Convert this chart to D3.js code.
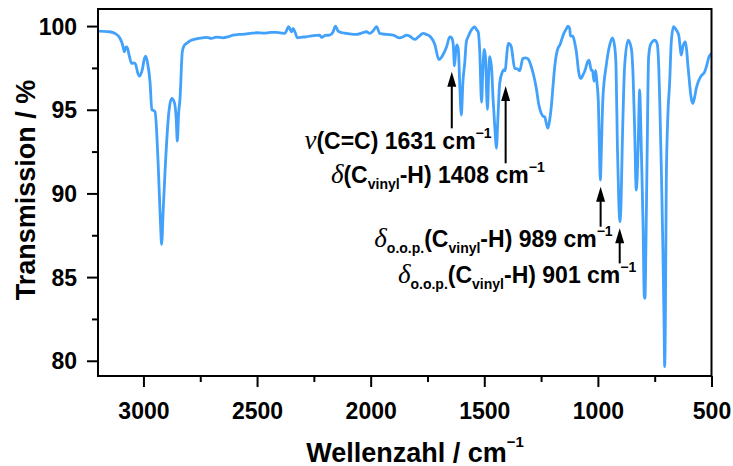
<!DOCTYPE html>
<html>
<head>
<meta charset="utf-8">
<script src="https://cdn.jsdelivr.net/npm/d3@7"></script>
<style>
  body { margin: 0; background: #fff; }
  svg { display: block; font-family: "Liberation Sans", Arial, sans-serif; font-weight: bold; }
  .greek { font-family: "Liberation Serif", "Times New Roman", serif; font-style: italic; font-weight: normal; }
</style>
</head>
<body>
<div id="chart"></div>
<script>
// IR spectrum (wavenumber in cm-1, transmission in %)
const wavenumber = [
  3200, 3150, 3125, 3103, 3092, 3084, 3076, 3071, 3062, 3052, 3040, 3034, 3025, 3018, 3005, 2995, 2990, 2982, 2971, 2963,
  2955, 2949, 2935, 2925, 2920, 2913, 2905, 2888, 2876, 2864, 2856, 2851, 2845, 2839, 2829, 2820, 2810, 2790, 2773, 2750,
  2722, 2700, 2680, 2650, 2627, 2605, 2580, 2553, 2530, 2502, 2470, 2440, 2414, 2390, 2378, 2368, 2361, 2353, 2348, 2341,
  2332, 2322, 2300, 2282, 2260, 2240, 2224, 2216, 2200, 2180, 2165, 2155, 2143, 2125, 2106, 2085, 2062, 2040, 2018, 2004,
  1990, 1974, 1960, 1930, 1901, 1872, 1857, 1842, 1828, 1806, 1790, 1769, 1755, 1740, 1728, 1718, 1700, 1690, 1681, 1665,
  1652, 1644, 1637, 1631, 1625, 1620, 1614, 1608, 1601, 1594, 1586, 1579, 1571, 1557, 1542, 1532, 1527, 1520, 1512, 1506,
  1500, 1495, 1486, 1480, 1476, 1468, 1461, 1452, 1447, 1440, 1432, 1420, 1413, 1408, 1403, 1395, 1390, 1381, 1366, 1355,
  1344, 1330, 1318, 1307, 1293, 1280, 1271, 1260, 1249, 1240, 1234, 1227, 1220, 1212, 1205, 1197, 1190, 1175, 1168, 1150,
  1140, 1132, 1124, 1121, 1110, 1102, 1095, 1085, 1078, 1073, 1066, 1058, 1044, 1039, 1029, 1024, 1017, 1010, 1004, 998,
  993, 989, 985, 978, 963, 948, 936, 926, 920, 914, 908, 903, 898, 893, 882, 867, 853, 845, 838, 831,
  827, 823, 816, 812, 809, 801, 796, 793, 789, 783, 777, 769, 758, 750, 744, 738, 732, 728, 720, 714,
  709, 706, 703, 699, 692, 684, 677, 667, 655, 648, 643, 637, 633, 626, 615, 609, 604, 598, 593, 588,
  582, 575, 567, 548, 530, 520, 511, 500
];
const transmission = [
  99.70, 99.66, 99.56, 99.26, 98.90, 98.46, 98.75, 98.70, 98.20, 97.77, 97.80, 97.70, 97.20, 97.01, 97.40, 98.10, 98.21, 97.80, 96.67, 95.00,
  94.95, 94.88, 91.70, 88.20, 86.96, 89.00, 91.30, 94.88, 95.68, 95.44, 94.50, 93.13, 94.80, 95.68, 98.46, 98.85, 98.97, 99.15, 99.22, 99.28,
  99.32, 99.26, 99.34, 99.30, 99.36, 99.46, 99.50, 99.52, 99.56, 99.60, 99.58, 99.62, 99.62, 99.58, 99.56, 99.80, 99.96, 99.78, 99.66, 99.86,
  99.60, 99.30, 99.34, 99.36, 99.42, 99.45, 99.46, 99.32, 99.44, 99.46, 99.66, 100.0, 99.70, 99.60, 99.56, 99.52, 99.50, 99.58, 99.66, 99.56,
  99.70, 99.96, 99.56, 99.50, 99.46, 99.30, 99.36, 99.46, 99.40, 99.20, 99.35, 99.56, 99.50, 99.40, 99.20, 98.92, 98.00, 98.10, 98.30, 98.80,
  99.36, 99.30, 98.96, 97.62, 98.60, 98.87, 98.57, 96.50, 94.68, 96.67, 97.80, 99.06, 99.36, 99.76, 99.95, 99.75, 99.66, 98.50, 95.45, 97.50,
  98.60, 98.20, 95.02, 97.40, 98.17, 97.50, 95.58, 93.60, 92.69, 94.50, 96.60, 97.27, 97.40, 97.33, 97.97, 98.96, 98.95, 98.75, 97.47, 97.45,
  97.33, 98.07, 98.10, 98.03, 97.57, 96.90, 96.28, 95.30, 94.78, 94.60, 94.58, 94.20, 93.89, 94.40, 95.18, 96.50, 97.57, 98.70, 98.85, 99.56,
  99.80, 100.0, 99.86, 99.40, 99.40, 99.00, 98.50, 97.30, 96.90, 96.88, 97.07, 97.30, 97.90, 97.97, 97.35, 97.37, 96.70, 97.35, 96.60, 95.50,
  92.50, 90.80, 92.50, 95.68, 97.67, 98.87, 99.30, 98.77, 97.50, 92.70, 89.50, 88.31, 89.50, 92.70, 97.67, 99.16, 98.67, 97.00, 93.69, 90.20,
  91.00, 92.70, 96.18, 94.50, 92.70, 88.00, 83.90, 83.73, 86.50, 92.70, 98.07, 98.87, 99.10, 99.16, 99.10, 98.87, 97.50, 95.68, 91.00, 86.72,
  82.50, 79.65, 82.50, 90.70, 94.68, 96.67, 99.06, 99.96, 99.76, 99.60, 99.36, 98.60, 98.27, 98.77, 99.06, 98.50, 97.67, 96.80, 96.08, 95.60,
  95.38, 95.70, 96.28, 96.97, 97.27, 97.70, 98.17, 98.35
];

const xMajorTicks = [3000, 2500, 2000, 1500, 1000, 500];
const xMinorTicks = [2750, 2250, 1750, 1250, 750];
const yMajorTicks = [80, 85, 90, 95, 100];
const yMinorTicks = [82.5, 87.5, 92.5, 97.5];

// arrows: band position, head and tail in transmission units
const arrowWn = [1643, 1406, 988, 904];
const arrowHead = [97.27, 96.42, 90.40, 87.92];
const arrowTail = [93.89, 91.80, 88.01, 85.82];

// labels: greek symbol, its subscript, band, anchor (end wn, baseline T)
const labelGreek = ['ν', 'δ', 'δ', 'δ'];
const labelGreekSub = ['', '', 'o.o.p.', 'o.o.p.'];
const labelBand = ['1631', '1408', '989', '901'];
const labelEndWn = [1468, 1234, 935, 831];
const labelBaseT = [92.63, 90.64, 86.82, 84.63];

const W = 733;
const H = 466;
const margin = { top: 9, right: 21.5, bottom: 90, left: 98 };
const width = W - margin.left - margin.right;
const height = H - margin.top - margin.bottom;
const lineColor = '#42a1fb';

const svg = d3.select('#chart').append('svg')
  .attr('width', W)
  .attr('height', H);

const g = svg.append('g')
  .attr('transform', `translate(${margin.left},${margin.top})`);

const x = d3.scaleLinear().domain([3200, 500]).range([0, width]);
const y = d3.scaleLinear().domain([79.09, 101.02]).range([height, 0]);

const spectrum = wavenumber.map((wn, i) => ({ wn, t: transmission[i] }));

// spectrum line
g.append('path')
  .datum(spectrum)
  .attr('fill', 'none')
  .attr('stroke', lineColor)
  .attr('stroke-width', 2.8)
  .attr('stroke-linejoin', 'round')
  .attr('d', d3.line().x(d => x(d.wn)).y(d => y(d.t)).curve(d3.curveMonotoneX));

// axes
g.append('g')
  .attr('transform', `translate(0,${height})`)
  .call(d3.axisBottom(x).tickValues(xMajorTicks).tickSize(11).tickPadding(16).tickFormat(d3.format('d')));
g.append('g')
  .attr('transform', `translate(0,${height})`)
  .call(d3.axisBottom(x).tickValues(xMinorTicks).tickSize(6).tickFormat(''));
const yAxis = g.append('g')
  .call(d3.axisLeft(y).tickValues(yMajorTicks).tickSize(11).tickPadding(10).tickFormat(d3.format('d')));
g.append('g')
  .call(d3.axisLeft(y).tickValues(yMinorTicks).tickSize(6).tickFormat(''));

g.selectAll('.domain').remove();
g.selectAll('.tick line').attr('stroke', '#000').attr('stroke-width', 2);
g.selectAll('.tick text')
  .attr('fill', '#000')
  .style('font-family', '"Liberation Sans", Arial, sans-serif')
  .style('font-weight', 'bold')
  .style('font-size', '23px');
yAxis.selectAll('.tick text').attr('dy', '0.35em');

// frame
g.append('rect')
  .attr('width', width)
  .attr('height', height)
  .attr('fill', 'none')
  .attr('stroke', '#000')
  .attr('stroke-width', 2);

// axis titles
const xTitle = svg.append('text')
  .attr('x', 415)
  .attr('y', 461.5)
  .attr('text-anchor', 'middle')
  .style('font-size', '27px');
xTitle.append('tspan').text('Wellenzahl / cm');
xTitle.append('tspan').attr('dy', -15).style('font-size', '15px').text('−1');

svg.append('text')
  .attr('transform', 'translate(35,190) rotate(-90)')
  .attr('text-anchor', 'middle')
  .style('font-size', '27px')
  .text('Transmission / %');

// arrows
const arrows = g.selectAll('.arrow')
  .data(arrowWn.map((wn, i) => ({ wn, head: arrowHead[i], tail: arrowTail[i] })))
  .enter().append('g')
  .attr('class', 'arrow');
arrows.append('line')
  .attr('x1', d => x(d.wn))
  .attr('x2', d => x(d.wn))
  .attr('y1', d => y(d.tail))
  .attr('y2', d => y(d.head) + 10)
  .attr('stroke', '#000')
  .attr('stroke-width', 2);
arrows.append('path')
  .attr('d', d => {
    const px = x(d.wn);
    const py = y(d.head);
    return `M${px},${py}L${px - 4.5},${py + 15}L${px + 4.5},${py + 15}Z`;
  })
  .attr('fill', '#000');

// annotation labels
labelGreek.forEach((greek, i) => {
  const t = g.append('text')
    .attr('x', x(labelEndWn[i]))
    .attr('y', y(labelBaseT[i]))
    .attr('text-anchor', 'end')
    .style('font-size', '23px');
  t.append('tspan').attr('class', 'greek').style('font-size', '27px').text(greek);
  if (labelGreekSub[i]) {
    t.append('tspan').attr('dy', 6).style('font-size', '14px').text(labelGreekSub[i]);
    t.append('tspan').attr('dy', -6).text('(C');
  } else {
    t.append('tspan').text('(C');
  }
  if (i === 0) {
    t.append('tspan').text('=C) 1631 cm');
  } else {
    t.append('tspan').attr('dy', 6).style('font-size', '14px').text('vinyl');
    t.append('tspan').attr('dy', -6).text(`-H) ${labelBand[i]} cm`);
  }
  t.append('tspan').attr('dy', -11).style('font-size', '14px').text('−1');
});
</script>
</body>
</html>
